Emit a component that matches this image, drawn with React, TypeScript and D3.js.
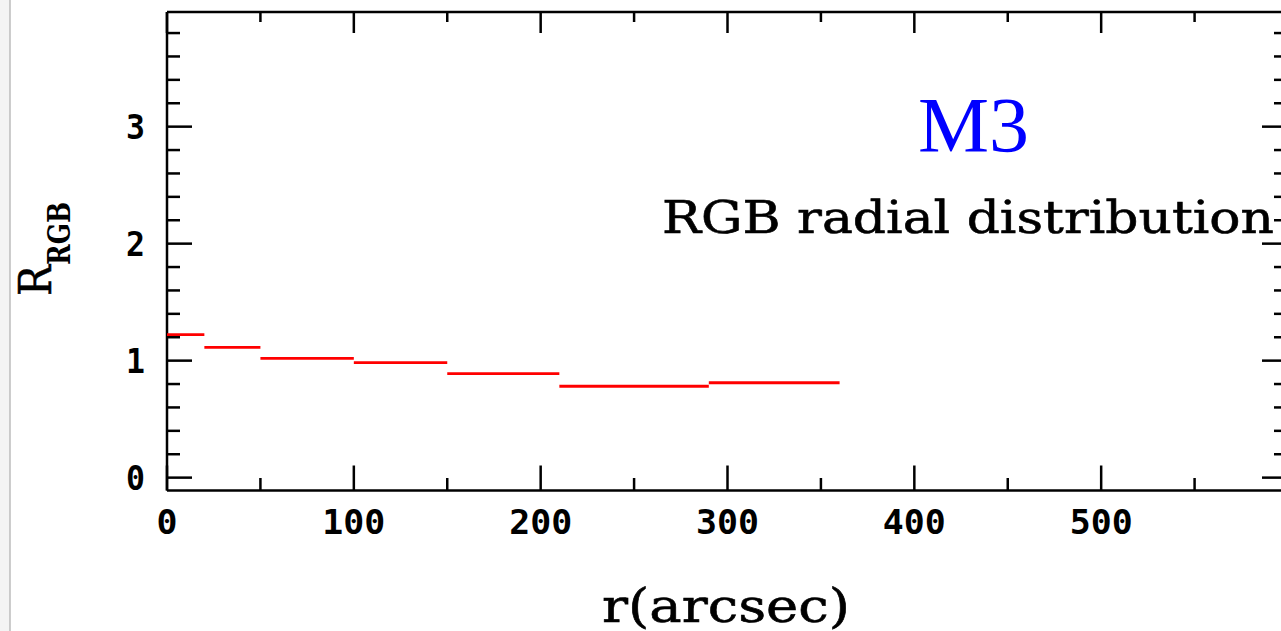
import React from "react";
import * as d3 from "d3";

const binEdges = [0, 20, 50, 100, 150, 210, 290, 360];
const ratioValues = [1.222, 1.114, 1.02, 0.983, 0.889, 0.781, 0.811];
const xMajorTicks = [0, 100, 200, 300, 400, 500, 600];
const xMinorTicks = [50, 150, 250, 350, 450, 550];
const yMajorTicks = [0, 1, 2, 3];
const yMinorTicks = [0.2, 0.4, 0.6, 0.8, 1.2, 1.4, 1.6, 1.8, 2.2, 2.4, 2.6, 2.8, 3.2, 3.4, 3.6, 3.8];
const xLabels = ["0", "100", "200", "300", "400", "500"];

const W = 1281;
const H = 631;
const L = 167, R = 1288, T = 12, B = 490.5;

export default function App() {
  const x = d3.scaleLinear().domain([0, 600]).range([L, R]);
  const y = d3.scaleLinear().domain([-0.11, 3.98]).range([B, T]);
  const mono = "'DejaVu Sans Mono', 'Liberation Mono', monospace";
  const serif = "'DejaVu Serif', 'Liberation Serif', serif";
  const times = "'Liberation Serif', 'DejaVu Serif', serif";
  return (
    <svg width={W} height={H} style={{ position: "absolute", left: 0, top: 0, background: "#fff" }}>
      <rect x={0} y={0} width={W} height={H} fill="#fff" />
      <rect x={0} y={0} width={10} height={H} fill="#f4f4f4" />
      <line x1={10} y1={0} x2={10} y2={H} stroke="#bdbdbd" strokeWidth={1.5} />
      {/* frame */}
      <g stroke="#000" strokeWidth={2.5} fill="none">
        <line x1={L} y1={T} x2={R} y2={T} />
        <line x1={L} y1={B} x2={R} y2={B} />
        <line x1={L} y1={T} x2={L} y2={B} />
        <line x1={R} y1={T} x2={R} y2={B} />
        {xMajorTicks.map((t) => (
          <g key={"xM" + t}>
            <line x1={x(t)} x2={x(t)} y1={B} y2={B - 25} />
            <line x1={x(t)} x2={x(t)} y1={T} y2={T + 21} />
          </g>
        ))}
        {xMinorTicks.map((t) => (
          <g key={"xm" + t}>
            <line x1={x(t)} x2={x(t)} y1={B} y2={B - 12.5} />
            <line x1={x(t)} x2={x(t)} y1={T} y2={T + 10} />
          </g>
        ))}
        {yMajorTicks.map((t) => (
          <g key={"yM" + t}>
            <line x1={L} x2={L + 25} y1={y(t)} y2={y(t)} />
            <line x1={R} x2={R - 26} y1={y(t)} y2={y(t)} />
          </g>
        ))}
        {yMinorTicks.map((t) => (
          <g key={"ym" + t}>
            <line x1={L} x2={L + 13} y1={y(t)} y2={y(t)} />
            <line x1={R} x2={R - 14} y1={y(t)} y2={y(t)} />
          </g>
        ))}
      </g>
      {/* data steps */}
      <g stroke="#ff0000" strokeWidth={2.8}>
        {ratioValues.map((v, i) => (
          <line key={"s" + i} x1={x(binEdges[i])} x2={x(binEdges[i + 1])} y1={y(v)} y2={y(v)} />
        ))}
      </g>
      {/* tick labels */}
      <g fontFamily={mono} fontWeight="bold" fontSize={33} fill="#000">
        {xLabels.map((lab, i) => (
          <text key={"xl" + lab} x={x(xMajorTicks[i])} y={534} textAnchor="middle" textLength={lab.length * 21} lengthAdjust="spacingAndGlyphs">
            {lab}
          </text>
        ))}
        {yMajorTicks.map((t) => (
          <text key={"yl" + t} x={145} y={y(t) + 12} textAnchor="end" textLength={19} lengthAdjust="spacingAndGlyphs">
            {String(t)}
          </text>
        ))}
      </g>
      {/* axis titles */}
      <text x={602} y={622} fontFamily={serif} fontSize={47} fill="#000" stroke="#000" strokeWidth={0.6} textLength={248} lengthAdjust="spacingAndGlyphs">
        r(arcsec)
      </text>
      <g transform="translate(51,296) rotate(-90)">
        <text x={0} y={0} fontFamily={serif} fontSize={44} fill="#000" stroke="#000" strokeWidth={0.5} textLength={31} lengthAdjust="spacingAndGlyphs">R</text>
        <text x={31} y={19} fontFamily={serif} fontSize={31} fontWeight="bold" fill="#000" textLength={63} lengthAdjust="spacingAndGlyphs">RGB</text>
      </g>
      {/* annotations */}
      <text x={918} y={151} fontFamily={times} fontSize={79} fill="#0000ff" textLength={111} lengthAdjust="spacingAndGlyphs">
        M3
      </text>
      <text x={662} y={233} fontFamily={serif} fontSize={45} fill="#000" stroke="#000" strokeWidth={0.6} textLength={612} lengthAdjust="spacingAndGlyphs">
        RGB radial distribution
      </text>
    </svg>
  );
}
